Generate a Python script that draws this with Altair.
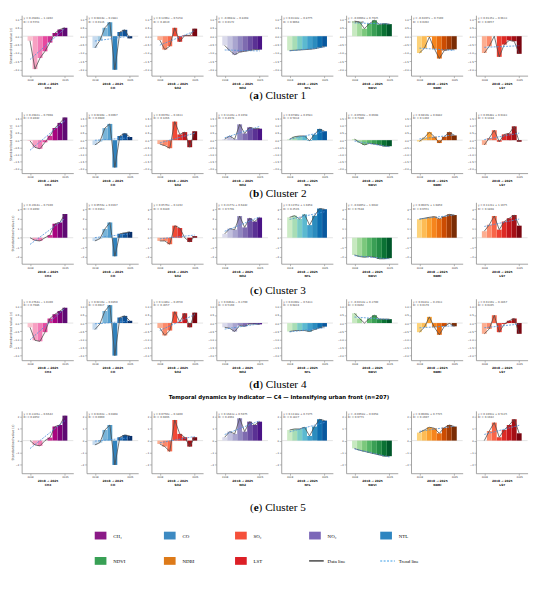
import altair as alt
import numpy as np
import pandas as pd

# ---------------- data ----------------
YEARS = [2018, 2019, 2020, 2021, 2022, 2023, 2024, 2025]
INDICATORS = ["CH4", "CO", "SO2", "NO2", "NTL", "NDVI", "NDBI", "LST"]

cluster1 = {
    "CH4": [-0.27, -1.96, -1.30, -0.90, -0.38, 0.19, 0.40, 0.50],
    "CO": [-0.70, -0.25, 0.50, 0.83, -2.00, 0.25, 0.38, -0.13],
    "SO2": [-0.23, -0.80, -0.60, 0.50, -0.33, 0.05, 0.05, 0.45],
    "NO2": [-0.55, -0.85, -1.10, -0.95, -0.90, -0.85, -0.80, -0.80],
    "NTL": [-0.85, -0.84, -0.82, -0.80, -0.78, -0.75, -0.68, -0.62],
    "NDVI": [0.90, 0.85, 0.45, 0.75, 0.95, 0.70, 0.75, 0.72],
    "NDBI": [-1.00, -0.72, -0.05, -0.75, -1.33, -0.85, -0.78, -0.78],
    "LST": [-1.00, -0.60, 0.00, -1.23, -0.50, -0.25, -0.30, -1.05],
}
cluster2 = {
    "CH4": [-0.05, -0.50, -0.60, -0.15, 0.30, 0.85, 1.20, 1.58],
    "CO": [-0.33, -0.10, 0.84, 1.13, -1.90, 0.29, 0.47, 0.22],
    "SO2": [-0.27, -0.38, -0.56, 1.29, 0.40, 0.56, -0.49, 0.62],
    "NO2": [0.07, 0.29, 0.07, 1.10, 0.47, 0.89, 0.80, 0.80],
    "NTL": [0.07, 0.24, 0.29, 0.29, -0.04, 0.40, 0.78, 0.62],
    "NDVI": [0.07, -0.16, -0.33, -0.22, -0.27, -0.33, -0.42, -0.42],
    "NDBI": [-0.09, 0.18, 0.56, 0.24, -0.20, 0.24, 0.56, 0.33],
    "LST": [-0.33, 0.15, 0.69, -0.11, 0.40, 0.47, 0.96, -0.11],
}
cluster3 = {
    "CH4": [0.00, -0.28, -0.34, 0.00, 0.28, 1.48, 1.62, 2.52],
    "CO": [-0.34, -0.10, 0.93, 1.62, -1.97, 0.41, 0.52, 0.62],
    "SO2": [-0.34, -0.34, -0.69, 1.28, 1.03, 0.00, -0.45, 0.17],
    "NO2": [0.41, 0.97, 0.86, 2.30, 1.10, 2.07, 1.72, 2.14],
    "NTL": [2.17, 2.34, 2.00, 2.48, 1.34, 2.34, 3.10, 3.03],
    "NDVI": [-1.83, -2.00, -2.07, -2.00, -2.07, -2.24, -2.24, -2.17],
    "NDBI": [1.97, 2.07, 2.17, 2.24, 2.00, 2.24, 2.48, 2.41],
    "LST": [0.69, 1.38, 2.31, 0.86, 1.72, 2.07, 2.41, 1.28],
}
cluster4 = {
    "CH4": [-0.26, -1.06, -1.12, -0.56, 0.28, 0.54, 0.74, 0.94],
    "CO": [-0.40, -0.06, 0.74, 1.10, -2.00, 0.34, 0.44, 0.14],
    "SO2": [-0.30, -0.76, -0.46, 0.70, 0.08, 0.60, -0.26, 0.64],
    "NO2": [-0.26, -0.32, -0.52, -0.16, -0.20, -0.06, -0.06, -0.08],
    "NTL": [-0.52, -0.46, -0.46, -0.46, -0.52, -0.40, -0.30, -0.22],
    "NDVI": [0.60, 0.28, 0.00, 0.28, 0.48, 0.24, 0.24, 0.24],
    "NDBI": [-0.56, -0.26, 0.38, -0.26, -0.72, -0.20, -0.02, -0.20],
    "LST": [-0.66, -0.36, 0.48, -0.56, -0.06, 0.14, 0.28, -0.66],
}
cluster5 = {
    "CH4": [0.00, -0.36, -0.44, 0.00, 0.25, 1.17, 1.30, 2.08],
    "CO": [-0.36, -0.17, 0.89, 1.30, -2.03, 0.28, 0.47, 0.39],
    "SO2": [-0.28, -0.50, -0.90, 1.72, 0.56, 0.28, -0.50, 0.28],
    "NO2": [0.28, 0.75, 0.56, 1.86, 0.75, 1.58, 1.30, 1.58],
    "NTL": [0.89, 0.97, 0.97, 1.11, 0.39, 1.17, 1.78, 1.67],
    "NDVI": [-0.65, -0.80, -0.90, -1.00, -1.10, -1.20, -1.30, -1.30],
    "NDBI": [0.67, 0.89, 1.11, 1.03, 0.61, 1.08, 1.30, 1.17],
    "LST": [0.00, 0.80, 1.50, 0.28, 0.89, 1.30, 1.78, 0.61],
}
CLUSTERS = [cluster1, cluster2, cluster3, cluster4, cluster5]

CAPTION_LETTERS = ["a", "b", "c", "d", "e"]
CAPTION_NAMES = ["Cluster 1", "Cluster 2", "Cluster 3", "Cluster 4", "Cluster 5"]
TITLE_C5 = "Temporal dynamics by indicator \u2014 C4 \u2014 Intensifying urban front  (n=207)"
X_TICKS = [2018, 2025]
Y_TICKS = [
    [-2.0, -1.5, -1.0, -0.5, 0.0, 0.5, 1.0],
    [-2.0, -1.5, -1.0, -0.5, 0.0, 0.5, 1.0, 1.5],
    [-2, -1, 0, 1, 2, 3],
    [-2.0, -1.5, -1.0, -0.5, 0.0, 0.5, 1.0],
    [-2, -1, 0, 1, 2],
]
Y_TITLE = "Standardised value (z)"
LEGEND_LABELS = ["CH\u2084", "CO", "SO\u2082", "NO\u2082", "NTL",
                 "NDVI", "NDBI", "LST", "Data line", "Trend line"]

# ---------------- styles / layout ----------------
PALETTES = {
    "CH4": ["#fac3cf", "#f7a1c2", "#f27bb5", "#e8489e", "#cf2e93", "#a8047f", "#7d0178", "#5e0a72"],
    "CO": ["#c6dbef", "#a3cbe3", "#79b5d9", "#539ecd", "#3182bd", "#1f6aae", "#0d5096", "#08306b"],
    "SO2": ["#fcae91", "#fc8a6a", "#fb6a4a", "#f24a35", "#e0302a", "#c4161c", "#a10e15", "#7a0510"],
    "NO2": ["#dadaeb", "#c2c1de", "#a9a5cf", "#9188c0", "#7e6bb0", "#6a4ea2", "#5a3194", "#4a1486"],
    "NTL": ["#ccebc5", "#a8ddb5", "#7bccc4", "#5bb9d0", "#3f9fcb", "#2b8cbe", "#0d6eaf", "#08589e"],
    "NDVI": ["#c7e9c0", "#a1d99b", "#7bc87c", "#56b567", "#3a9f55", "#238b45", "#0b7234", "#00572a"],
    "NDBI": ["#fdd37b", "#fdbc55", "#fba02f", "#f6851d", "#e86c10", "#cc4c02", "#a53c04", "#7a2c05"],
    "LST": ["#fcae91", "#fc8a6a", "#f86548", "#ee3f30", "#dd2a25", "#c4161c", "#a50f15", "#7a0510"],
}
LEGEND_COLORS = ["#8b1a87", "#3d8ac2", "#f5503a", "#7c67b8", "#2e85c0",
                 "#38a055", "#dd7a19", "#dc1f26", "#000000", "#3a9de8"]
Y_DOMAINS = [[-2.35, 1.25], [-2.29, 1.98], [-2.76, 3.76], [-2.28, 1.49], [-2.72, 2.48]]
ROW_HEIGHTS = [62, 63, 63, 63, 64]
PANEL_W = 53
GAP = 13.6
LEFT_EXT = 14          # width of the first panel's y-axis block (labels + title)
GRID_W = PANEL_W * 8 + GAP * 7 + LEFT_EXT
X_DOMAIN = [2017.3, 2025.7]
CAPTION_CX = 263
SERIF = "Liberation Serif"
SANS = "DejaVu Sans"
CAP_FS = 11.5
BOLD_W = {"a": 0.5, "b": 0.556, "c": 0.444, "d": 0.556, "e": 0.444}


def eq_strings(vals):
    xi = np.arange(len(vals))
    v = np.array(vals, dtype=float)
    slope, icpt = np.polyfit(xi, v, 1)
    pred = slope * xi + icpt
    r2 = 1 - ((v - pred) ** 2).sum() / ((v - v.mean()) ** 2).sum()
    sign = "+" if icpt >= 0 else "\u2212"
    return f"y = {slope:.4f}x {sign} {abs(icpt):.4f}", f"R\u00b2 = {r2:.4f}"


def panel(ci, ind, first):
    vals = CLUSTERS[ci][ind]
    df = pd.DataFrame({"year": YEARS, "value": vals, "fill": PALETTES[ind]})
    xs = alt.Scale(domain=X_DOMAIN, nice=False, zero=False)
    ys = alt.Scale(domain=Y_DOMAINS[ci], nice=False, zero=False)
    step = Y_TICKS[ci][1] - Y_TICKS[ci][0]
    yax = dict(values=Y_TICKS[ci], format=".1f" if step < 1 else "d")
    yax["title"] = Y_TITLE if first else ""
    x_enc = alt.X("year:Q", scale=xs,
                  axis=alt.Axis(values=X_TICKS, format="d", title=["2018 \u2192 2025", ind]))
    y_enc = alt.Y("value:Q", scale=ys, axis=alt.Axis(**yax))
    base = alt.Chart(df)
    zero = alt.Chart(pd.DataFrame({"value": [0.0]})).mark_rule(
        color="#c8c8c8", strokeWidth=0.5).encode(y=y_enc)
    bars = base.mark_bar(size=5.0).encode(
        x=x_enc, y=y_enc, y2=alt.Y2(datum=0), color=alt.Color("fill:N", scale=None))
    line = base.mark_line(color="#4d4d4d", strokeWidth=0.8).encode(x=x_enc, y=y_enc)
    trend = base.transform_regression("year", "value").mark_line(
        color="#4a90d9", strokeDash=[2, 1.2], strokeWidth=0.8).encode(x=x_enc, y=y_enc)
    e1, e2 = eq_strings(vals)
    one = pd.DataFrame({"k": [0]})
    t1 = alt.Chart(one).mark_text(text=e1, align="left", baseline="top", fontSize=2.7,
                                  font=SANS, color="#444").encode(x=alt.value(2), y=alt.value(2))
    t2 = alt.Chart(one).mark_text(text=e2, align="left", baseline="top", fontSize=2.7,
                                  font=SANS, color="#444").encode(x=alt.value(2), y=alt.value(5.5))
    return alt.layer(zero, bars, line, trend, t1, t2).properties(
        width=PANEL_W, height=ROW_HEIGHTS[ci])


def row(ci):
    return alt.hconcat(*[panel(ci, ind, i == 0) for i, ind in enumerate(INDICATORS)],
                       spacing=GAP, bounds="flush")


def caption_layers(ci, cy):
    letter = CAPTION_LETTERS[ci]
    rest = ") " + CAPTION_NAMES[ci]
    rest_w = (0.333 + 0.25 + 0.667 + 0.278 + 0.5 + 0.389 + 0.278 + 0.444 + 0.333 + 0.25 + 0.5) * CAP_FS
    total = 0.333 * CAP_FS + BOLD_W[letter] * CAP_FS + rest_w
    sx = CAPTION_CX - total / 2
    one = pd.DataFrame({"k": [0]})
    kw = dict(align="left", baseline="middle", font=SERIF, fontSize=CAP_FS, color="#000")
    a = alt.Chart(one).mark_text(text="(", **kw).encode(x=alt.value(sx), y=alt.value(cy))
    b = alt.Chart(one).mark_text(text=letter, fontWeight="bold", **kw).encode(
        x=alt.value(sx + 0.333 * CAP_FS), y=alt.value(cy))
    c = alt.Chart(one).mark_text(text=rest, **kw).encode(
        x=alt.value(sx + (0.333 + BOLD_W[letter]) * CAP_FS), y=alt.value(cy))
    return [a, b, c]


def spacer(layers, h):
    return alt.layer(*layers).properties(width=GRID_W, height=h)


cap_a = spacer(caption_layers(0, 7), 23)
cap_b = spacer(caption_layers(1, 8), 16)
cap_c = spacer(caption_layers(2, 14), 22)
title_layer = alt.Chart(pd.DataFrame({"k": [0]})).mark_text(
    text=TITLE_C5, align="center", baseline="middle", font=SANS, fontWeight="bold",
    fontSize=5.5, color="#000").encode(x=alt.value(CAPTION_CX + 1), y=alt.value(24))
cap_d = spacer(caption_layers(3, 12) + [title_layer], 38)

# legend (layout positions relative to the left edge of the figure block)
LEG_COL_X = [75, 146, 219, 295, 368]
LEG_ROW_Y = [50, 76]
leg_rows = []
for i, (lab, col) in enumerate(zip(LEGEND_LABELS, LEGEND_COLORS)):
    r, c = divmod(i, 5)
    kind = "swatch" if i < 8 else ("data" if i == 8 else "trend")
    x0 = LEG_COL_X[c]
    y0 = LEG_ROW_Y[r]
    leg_rows.append(dict(label=lab, color=col, kind=kind, x0=x0, x1=x0 + (12 if kind == "swatch" else 15),
                         y=y0, y0=y0 - 4, y1=y0 + 4, tx=x0 + 19))
leg = pd.DataFrame(leg_rows)
lbase = alt.Chart(leg)
sw = lbase.transform_filter("datum.kind == 'swatch'").mark_rect(opacity=1).encode(
    x=alt.X("x0:Q", scale=None), x2="x1:Q", y=alt.Y("y0:Q", scale=None), y2="y1:Q",
    color=alt.Color("color:N", scale=None))
dl = lbase.transform_filter("datum.kind == 'data'").mark_rule(strokeWidth=1.1).encode(
    x=alt.X("x0:Q", scale=None), x2="x1:Q", y=alt.Y("y:Q", scale=None),
    color=alt.Color("color:N", scale=None))
tl = lbase.transform_filter("datum.kind == 'trend'").mark_rule(strokeWidth=1.1, strokeDash=[2, 1.5]).encode(
    x=alt.X("x0:Q", scale=None), x2="x1:Q", y=alt.Y("y:Q", scale=None),
    color=alt.Color("color:N", scale=None))
lt = lbase.mark_text(align="left", baseline="middle", font=SERIF, fontSize=5, color="#000").encode(
    x=alt.X("tx:Q", scale=None), y=alt.Y("y:Q", scale=None), text="label:N")
bottom = spacer(caption_layers(4, 22) + [sw, dl, tl, lt], 82)

chart = alt.vconcat(
    row(0), cap_a, row(1), cap_b, row(2), cap_c, row(3), cap_d, row(4), bottom,
    spacing=0,
).properties(padding=0).configure_view(stroke=None).configure_axis(
    domainColor="#8a8a8a", domainWidth=0.8, tickColor="#8a8a8a", tickWidth=0.6, tickSize=2,
    labelFontSize=2.5, labelColor="#333", labelPadding=0.8, grid=False,
    labelFont=SANS, titleFont=SANS,
).configure_axisX(
    titleFontSize=3.0, titleFontWeight="bold", titleColor="#111", titlePadding=1.5, titleLineHeight=4,
).configure_axisY(
    titleFontSize=3.3, titleFontWeight="normal", titleColor="#444", titlePadding=0.8,
)

chart.save("out.html", embed_options={"renderer": "svg", "actions": False})
